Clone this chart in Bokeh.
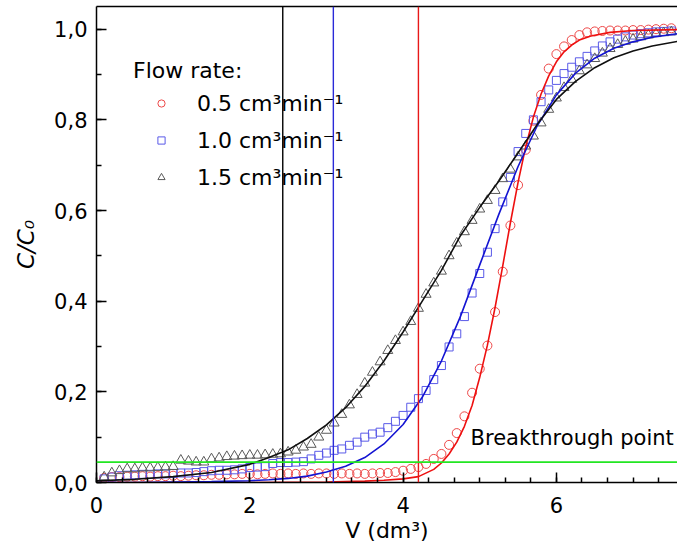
from bokeh.plotting import figure
from bokeh.models import (Range1d, LinearAxis, SingleIntervalTicker, FixedTicker,
                          CustomJSTickFormatter, Span, Label, Legend, LegendItem)
from bokeh.embed import file_html
from bokeh.resources import INLINE

# ---------------- data ----------------
V = [0.1, 0.2, 0.3, 0.4, 0.5, 0.6, 0.7, 0.8, 0.9, 1.0,
     1.1, 1.2, 1.3, 1.4, 1.5, 1.6, 1.7, 1.8, 1.9, 2.0,
     2.1, 2.2, 2.3, 2.4, 2.5, 2.6, 2.7, 2.8, 2.9, 3.0,
     3.1, 3.2, 3.3, 3.4, 3.5, 3.6, 3.7, 3.8, 3.9, 4.0,
     4.1, 4.2, 4.3, 4.4, 4.5, 4.6, 4.7, 4.8, 4.9, 5.0,
     5.1, 5.2, 5.3, 5.4, 5.5, 5.6, 5.7, 5.8, 5.9, 6.0,
     6.1, 6.2, 6.3, 6.4, 6.5, 6.6, 6.7, 6.8, 6.9, 7.0,
     7.1, 7.2, 7.3, 7.4, 7.5]

C_05 = [0.010, 0.012, 0.012, 0.013, 0.013, 0.014, 0.013, 0.014, 0.014, 0.015,
        0.014, 0.015, 0.016, 0.016, 0.017, 0.017, 0.018, 0.018, 0.019, 0.019,
        0.018, 0.019, 0.020, 0.019, 0.020, 0.019, 0.020, 0.019, 0.020, 0.020,
        0.019, 0.020, 0.019, 0.020, 0.019, 0.020, 0.021, 0.021, 0.023, 0.026,
        0.030, 0.034, 0.041, 0.052, 0.063, 0.083, 0.109, 0.146, 0.198, 0.251,
        0.302, 0.376, 0.465, 0.567, 0.656, 0.734, 0.798, 0.855, 0.913, 0.945,
        0.962, 0.976, 0.987, 0.993, 0.995, 0.996, 0.997, 0.997, 0.997, 0.998,
        0.998, 0.999, 1.000, 1.001, 1.002]

C_10 = [0.008, 0.012, 0.015, 0.016, 0.017, 0.018, 0.018, 0.019, 0.019, 0.020,
        0.021, 0.021, 0.022, 0.024, 0.026, 0.027, 0.027, 0.028, 0.030, 0.033,
        0.034, 0.035, 0.042, 0.044, 0.044, 0.045, 0.046, 0.052, 0.060, 0.065,
        0.071, 0.074, 0.082, 0.089, 0.100, 0.107, 0.111, 0.121, 0.135, 0.148,
        0.166, 0.185, 0.203, 0.227, 0.258, 0.299, 0.328, 0.366, 0.418, 0.461,
        0.508, 0.560, 0.619, 0.673, 0.730, 0.770, 0.800, 0.840, 0.866, 0.887,
        0.902, 0.916, 0.928, 0.940, 0.952, 0.963, 0.972, 0.978, 0.983, 0.987,
        0.990, 0.992, 0.994, 0.995, 0.996]

C_15 = [0.012, 0.021, 0.026, 0.030, 0.030, 0.032, 0.032, 0.033, 0.034, 0.035,
        0.049, 0.047, 0.045, 0.045, 0.052, 0.054, 0.057, 0.058, 0.059, 0.060,
        0.060, 0.061, 0.062, 0.063, 0.067, 0.071, 0.078, 0.084, 0.100, 0.115,
        0.131, 0.150, 0.171, 0.194, 0.219, 0.243, 0.266, 0.291, 0.313, 0.332,
        0.355, 0.384, 0.415, 0.440, 0.466, 0.500, 0.528, 0.553, 0.578, 0.603,
        0.622, 0.644, 0.670, 0.691, 0.718, 0.742, 0.764, 0.793, 0.823, 0.848,
        0.871, 0.889, 0.908, 0.921, 0.935, 0.947, 0.957, 0.966, 0.973, 0.978,
        0.983, 0.987, 0.990, 0.992, 0.994]

# fitted curves
FIT_05_V = [0.0, 1.0, 2.0, 3.0, 3.5, 3.75, 4.0, 4.2, 4.4, 4.5, 4.6, 4.7, 4.8, 4.9,
            5.0, 5.1, 5.2, 5.3, 5.4, 5.5, 5.6, 5.7, 5.8, 5.9, 6.0, 6.1, 6.2, 6.3,
            6.45, 6.7, 7.0, 7.58]
FIT_05 = [0.000, 0.000, 0.000, 0.001, 0.003, 0.005, 0.008, 0.013, 0.029, 0.043,
          0.063, 0.089, 0.124, 0.170, 0.232, 0.303, 0.386, 0.478, 0.573, 0.662,
          0.741, 0.806, 0.857, 0.897, 0.928, 0.950, 0.965, 0.976, 0.985, 0.993,
          0.997, 0.999]

FIT_V = [0.0, 0.5, 1.0, 1.5, 2.0, 2.25, 2.5, 2.75, 3.0, 3.25, 3.5, 3.75, 4.0,
         4.25, 4.5, 4.75, 5.0, 5.25, 5.5, 5.75, 6.0, 6.25, 6.5, 6.75, 7.0, 7.25, 7.58]
FIT_10 = [0.000, 0.000, 0.001, 0.002, 0.004, 0.006, 0.009, 0.014, 0.023, 0.036,
          0.055, 0.085, 0.128, 0.188, 0.268, 0.367, 0.480, 0.592, 0.697, 0.787,
          0.855, 0.903, 0.936, 0.958, 0.972, 0.982, 0.990]
FIT_15 = [0.004, 0.007, 0.013, 0.022, 0.040, 0.055, 0.072, 0.097, 0.127, 0.165,
          0.212, 0.268, 0.332, 0.400, 0.468, 0.545, 0.607, 0.665, 0.727, 0.790,
          0.845, 0.885, 0.915, 0.937, 0.952, 0.963, 0.973]

BREAK_V = [2.43, 3.09, 4.2]          # breakthrough volumes (1.5, 1.0, 0.5)
BREAK_LEVEL = 0.045
LABELS = ["0.5 cm³min⁻¹", "1.0 cm³min⁻¹", "1.5 cm³min⁻¹"]

FONT = "DejaVu Sans"

# ---------------- figure ----------------
p = figure(width=677, height=551, x_range=Range1d(0, 7.58), y_range=Range1d(0, 1.05),
           output_backend="svg", toolbar_location=None,
           x_axis_type=None, y_axis_type=None,
           min_border_left=96, min_border_right=0, min_border_top=6, min_border_bottom=69)
p.outline_line_color = None
p.background_fill_color = "white"
p.border_fill_color = "white"

def style_axis(ax):
    ax.axis_line_width = 1.5
    ax.axis_line_color = "black"
    ax.major_tick_line_width = 1.5
    ax.minor_tick_line_width = 1.5
    ax.major_tick_line_color = "black"
    ax.minor_tick_line_color = "black"
    ax.major_tick_in = 10
    ax.major_tick_out = 0
    ax.minor_tick_in = 5
    ax.minor_tick_out = 0
    ax.major_label_text_font = FONT
    ax.major_label_text_font_size = "21px"
    ax.major_label_text_color = "black"
    ax.axis_label_text_font = FONT
    ax.axis_label_text_color = "black"

xaxis = LinearAxis(ticker=SingleIntervalTicker(interval=2, num_minor_ticks=6),
                   axis_label="V (dm³)")
style_axis(xaxis)
xaxis.major_label_standoff = 14
xaxis.axis_label_standoff = 2
xaxis.axis_label_text_font_size = "22px"
xaxis.axis_label_text_font_style = "normal"
p.add_layout(xaxis, "below")

yaxis = LinearAxis(ticker=SingleIntervalTicker(interval=0.2, num_minor_ticks=2),
                   formatter=CustomJSTickFormatter(code="return tick.toFixed(1).replace('.', ',');"),
                   axis_label="C/C₀")
style_axis(yaxis)
yaxis.major_label_standoff = 9
yaxis.axis_label_standoff = 12
yaxis.axis_label_text_font_size = "23px"
yaxis.axis_label_text_font_style = "italic"
p.add_layout(yaxis, "left")

top = LinearAxis(ticker=FixedTicker(ticks=[]), major_label_text_font_size="0px",
                 major_tick_in=0, major_tick_out=0, minor_tick_in=0, minor_tick_out=0,
                 major_label_standoff=0, axis_line_width=1.5, axis_line_color="black")
p.add_layout(top, "above")

# breakthrough lines
for v, c in zip(BREAK_V, ["black", "#2a2ad8", "#e81818"]):
    p.add_layout(Span(location=v, dimension="height", line_color=c, line_width=1.4))
p.add_layout(Span(location=BREAK_LEVEL, dimension="width", line_color="#22e622", line_width=1.6))

# markers
rc = p.scatter(V, C_05, marker="circle", size=9, fill_alpha=0, line_color="#ee4848", line_width=1)
rs = p.scatter(V, C_10, marker="square", size=8, fill_alpha=0, line_color="#5a5ae8", line_width=1)
rt = p.scatter(V, C_15, marker="triangle", size=10, fill_alpha=0, line_color="#5a5a5a", line_width=1)

# fits
p.line(FIT_05_V, FIT_05, line_color="#ee1010", line_width=1.6)
p.line(FIT_V, FIT_10, line_color="#1414d2", line_width=1.6)
p.line(FIT_V, FIT_15, line_color="#101010", line_width=1.6)

legend = Legend(items=[LegendItem(label=LABELS[0], renderers=[rc]),
                       LegendItem(label=LABELS[1], renderers=[rs]),
                       LegendItem(label=LABELS[2], renderers=[rt])],
                title="Flow rate:", location=(37, 292),
                title_text_font=FONT, title_text_font_size="22px", title_text_font_style="normal",
                title_text_color="black",
                title_standoff=7, label_text_font=FONT, label_text_font_size="22px",
                label_text_color="black",
                glyph_width=56, glyph_height=18, label_height=26, label_standoff=8,
                spacing=11, padding=0, margin=0, border_line_color=None,
                background_fill_alpha=0)
p.add_layout(legend)

p.add_layout(Label(x=4.88, y=0.099, text="Breakthrough point", text_font=FONT,
                   text_font_size="21px", text_baseline="middle", text_color="black"))

open("out.html", "w").write(file_html(p, INLINE))
